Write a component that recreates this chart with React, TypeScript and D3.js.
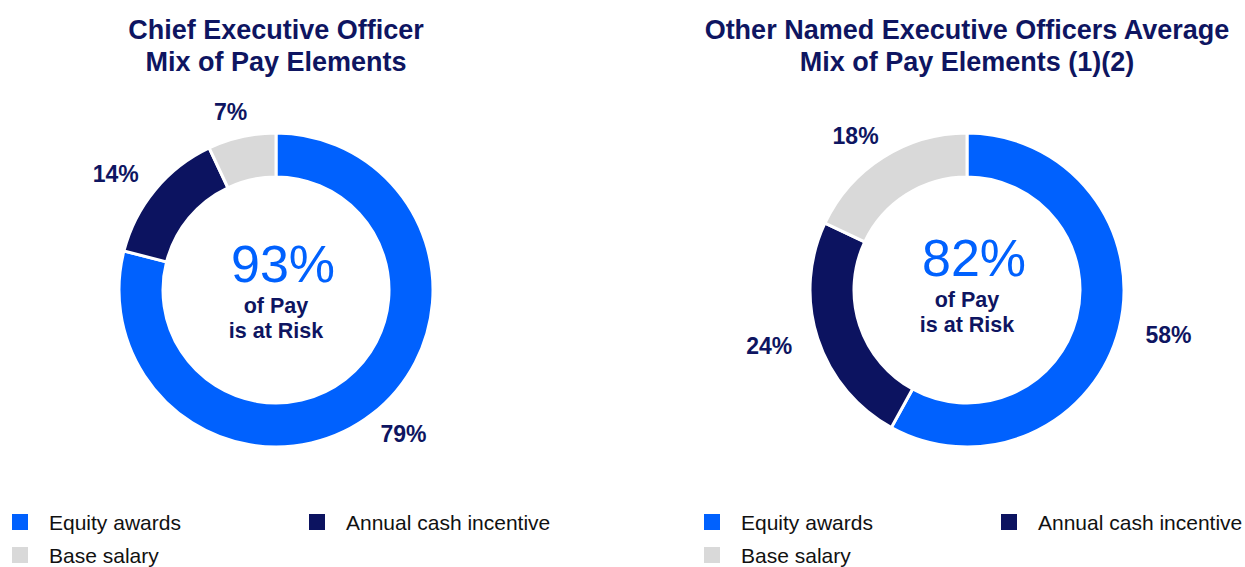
import React from 'react'
import * as d3 from 'd3'

const categories = ['Equity awards', 'Annual cash incentive', 'Base salary']
const ceoValues = [79, 14, 7]
const neoValues = [58, 24, 18]
const ceoAtRisk = '93%'
const neoAtRisk = '82%'
const ceoTitle = ['Chief Executive Officer', 'Mix of Pay Elements']
const neoTitle = ['Other Named Executive Officers Average', 'Mix of Pay Elements (1)(2)']

const colors = ['#0061fe', '#0c1360', '#d9d9d9']
const navy = '#0e1561'
const font = 'Liberation Sans, Arial, sans-serif'

const WIDTH = 1245
const HEIGHT = 567

const Donut = ({ cx, values, title, atRisk, lift }) => {
  const pie = d3.pie().sort(null).value((d) => d)
  const arcs = pie(values)
  const arc = d3.arc().innerRadius(113).outerRadius(157)
  const cy = 290

  // labels sit on an ellipse round the ring
  const labelPos = (d) => {
    const a = (d.startAngle + d.endAngle) / 2
    return [Math.sin(a) * 208, -Math.cos(a) * 182]
  }

  return (
    <g>
      {title.map((t, i) => (
        <text key={t} x={cx} y={39 + i * 32} textAnchor="middle" fontFamily={font}
          fontWeight="bold" fontSize={27} fill={navy}>{t}</text>
      ))}
      <g transform={`translate(${cx},${cy})`}>
        {arcs.map((d, i) => (
          <path key={i} d={arc(d)} fill={colors[i]} stroke="#fff" strokeWidth={3} />
        ))}
        {arcs.map((d, i) => {
          const [x, y] = labelPos(d)
          return (
            <text key={'l' + i} x={x} y={y} dy="0.35em" textAnchor="middle" fontFamily={font}
              fontWeight="bold" fontSize={23} fill={navy}>{d.value}%</text>
          )
        })}
        <g transform={`translate(0,${-lift})`}>
          <text x={7} y={-8} textAnchor="middle" fontFamily={font} fontSize={52} fill={colors[0]}>{atRisk}</text>
          <text x={0} y={23} textAnchor="middle" fontFamily={font} fontWeight="bold" fontSize={21.5} fill={navy}>of Pay</text>
          <text x={0} y={48} textAnchor="middle" fontFamily={font} fontWeight="bold" fontSize={21.5} fill={navy}>is at Risk</text>
        </g>
      </g>
    </g>
  )
}

const Legend = ({ x }) => {
  const spots = [[0, 0], [297, 0], [0, 33]]
  return (
    <g transform={`translate(${x},514)`}>
      {categories.map((c, i) => (
        <g key={c} transform={`translate(${spots[i][0]},${spots[i][1]})`}>
          <rect width={16} height={16} fill={colors[i]} />
          <text x={37} y={16} fontFamily={font} fontSize={21} fill="#111">{c}</text>
        </g>
      ))}
    </g>
  )
}

export default function App() {
  return (
    <svg width={WIDTH} height={HEIGHT} style={{ position: 'absolute', left: 0, top: 0, background: '#fff' }}>
      <Donut cx={276} values={ceoValues} title={ceoTitle} atRisk={ceoAtRisk} lift={0} />
      <Donut cx={967} values={neoValues} title={neoTitle} atRisk={neoAtRisk} lift={6} />
      <Legend x={12} />
      <Legend x={704} />
    </svg>
  )
}
